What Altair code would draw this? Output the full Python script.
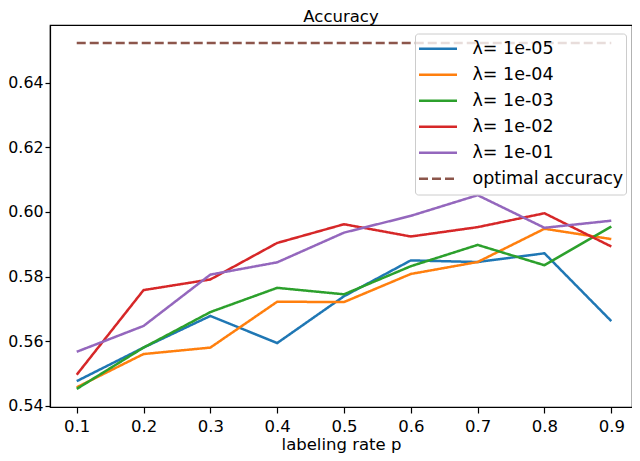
import altair as alt
import pandas as pd

p_values = [0.1, 0.2, 0.3, 0.4, 0.5, 0.6, 0.7, 0.8, 0.9]
acc_1e05 = [0.5476, 0.5580, 0.5678, 0.5594, 0.5739, 0.5850, 0.5845, 0.5872, 0.5662]
acc_1e04 = [0.5457, 0.5560, 0.5580, 0.5722, 0.5721, 0.5808, 0.5845, 0.5948, 0.5916]
acc_1e03 = [0.5452, 0.5580, 0.5690, 0.5765, 0.5745, 0.5832, 0.5898, 0.5835, 0.5955]
acc_1e02 = [0.5496, 0.5758, 0.5791, 0.5904, 0.5962, 0.5924, 0.5953, 0.5996, 0.5893]
acc_1e01 = [0.5567, 0.5647, 0.5806, 0.5844, 0.5936, 0.5988, 0.6052, 0.5951, 0.5973]
optimal_acc = 0.6523
optimal_p = [0.1, 0.9]

labels = ["λ= 1e-05", "λ= 1e-04", "λ= 1e-03", "λ= 1e-02", "λ= 1e-01", "optimal accuracy"]
colors = ["#1f77b4", "#ff7f0e", "#2ca02c", "#d62728", "#9467bd", "#8c564b"]
dashes = [[1, 0], [1, 0], [1, 0], [1, 0], [1, 0], [9, 4]]

rows = []
for lab, series in zip(labels[:5], [acc_1e05, acc_1e04, acc_1e03, acc_1e02, acc_1e01]):
    for p, v in zip(p_values, series):
        rows.append({"p": p, "acc": v, "series": lab})
for p in optimal_p:
    rows.append({"p": p, "acc": optimal_acc, "series": labels[5]})
df = pd.DataFrame(rows)

FONT = "DejaVu Sans"

legend = alt.Legend(
    title=None,
    orient="none",
    legendX=365,
    legendY=8.5,
    symbolType="stroke",
    symbolSize=1444,
    symbolStrokeWidth=2.5,
    labelFontSize=17.5,
    labelFont=FONT,
    labelColor="black",
    labelOffset=14,
    clipHeight=25.6,
    rowPadding=0,
    padding=2.5,
    fillColor="rgba(255,255,255,0.8)",
    strokeColor="#cccccc",
    cornerRadius=3,
)

chart = (
    alt.Chart(df)
    .mark_line(strokeWidth=2.5)
    .encode(
        x=alt.X(
            "p:Q",
            scale=alt.Scale(domain=[0.06, 0.931], nice=False, zero=False),
            axis=alt.Axis(
                values=p_values,
                format=".1f",
                title="labeling rate p",
                grid=False,
                tickSize=6,
                labelPadding=5,
                labelFontSize=16.5,
                titleFontSize=16.5,
                titleBaseline="alphabetic",
                titleY=42,
            ),
        ),
        y=alt.Y(
            "acc:Q",
            scale=alt.Scale(domain=[0.5396, 0.6579], nice=False, zero=False),
            axis=alt.Axis(
                values=[0.54, 0.56, 0.58, 0.60, 0.62, 0.64],
                format=".2f",
                title=None,
                grid=False,
                tickSize=5,
                labelPadding=2,
                labelFontSize=15.8,
            ),
        ),
        color=alt.Color(
            "series:N",
            scale=alt.Scale(domain=labels, range=colors),
            legend=legend,
        ),
        strokeDash=alt.StrokeDash(
            "series:N",
            scale=alt.Scale(domain=labels, range=dashes),
            legend=legend,
        ),
        order=alt.Order("p:Q"),
        detail="series:N",
    )
    .properties(
        width=582,
        height=382,
        title=alt.TitleParams(
            "Accuracy",
            fontSize=16.5,
            font=FONT,
            fontWeight="normal",
            color="black",
            anchor="middle",
            offset=0,
        ),
        autosize=alt.AutoSizeParams(type="none"),
        padding={"left": 42, "top": 17, "right": 0, "bottom": 46},
    )
    .configure_view(stroke="black", strokeWidth=1.2)
    .configure_axis(
        domainColor="black",
        domainWidth=1.2,
        tickColor="black",
        tickWidth=1.2,
        labelColor="black",
        labelFont=FONT,
        titleFont=FONT,
        titleFontWeight="normal",
        titleColor="black",
    )
)

chart.save("out.html", embed_options={"renderer": "svg", "actions": False})
